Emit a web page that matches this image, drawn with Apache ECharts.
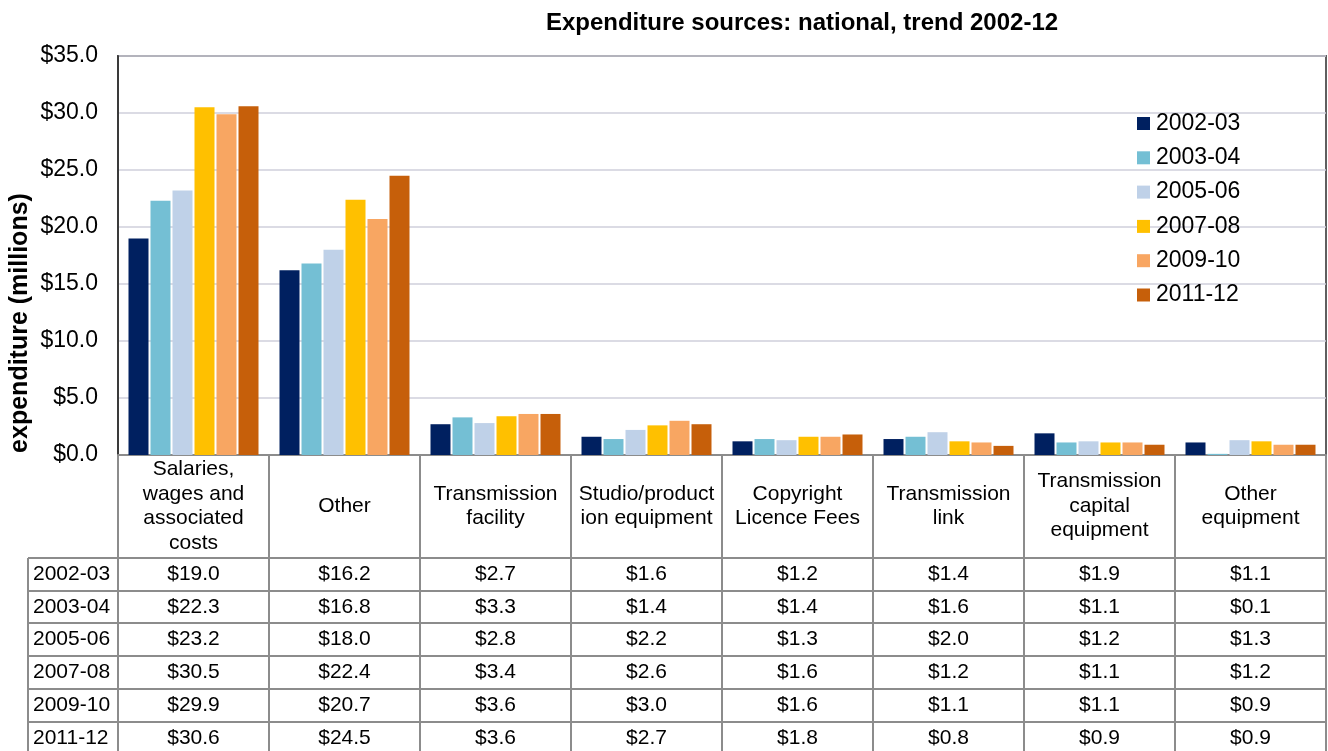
<!DOCTYPE html>
<html>
<head>
<meta charset="utf-8">
<title>Expenditure sources: national, trend 2002-12</title>
<script src="https://cdn.jsdelivr.net/npm/echarts@6/dist/echarts.min.js"></script>
<style>
  html, body { margin: 0; padding: 0; background: #fff; }
  #chart { width: 1328px; height: 751px; }
</style>
</head>
<body>
<div id="chart"></div>
<script>
// Expenditure categories (wrapped the way the header row shows them)
const categories = [
  'Salaries,\nwages and\nassociated\ncosts',
  'Other',
  'Transmission\nfacility',
  'Studio/product\nion equipment',
  'Copyright\nLicence Fees',
  'Transmission\nlink',
  'Transmission\ncapital\nequipment',
  'Other\nequipment'
];

// Financial years shown as series
const years = ['2002-03', '2003-04', '2005-06', '2007-08', '2009-10', '2011-12'];

// Expenditure in $ millions, one array per year, in category order
const exp2002_03 = [19.0, 16.2, 2.7, 1.6, 1.2, 1.4, 1.9, 1.1];
const exp2003_04 = [22.3, 16.8, 3.3, 1.4, 1.4, 1.6, 1.1, 0.1];
const exp2005_06 = [23.2, 18.0, 2.8, 2.2, 1.3, 2.0, 1.2, 1.3];
const exp2007_08 = [30.5, 22.4, 3.4, 2.6, 1.6, 1.2, 1.1, 1.2];
const exp2009_10 = [29.9, 20.7, 3.6, 3.0, 1.6, 1.1, 1.1, 0.9];
const exp2011_12 = [30.6, 24.5, 3.6, 2.7, 1.8, 0.8, 0.9, 0.9];

// Value axis range
const yMin = 0;
const yMax = 35;
const yStep = 5;

const seriesValues = [exp2002_03, exp2003_04, exp2005_06, exp2007_08, exp2009_10, exp2011_12];
const seriesColors = ['#002060', '#74BFD4', '#BFD1E8', '#FFC000', '#F8A662', '#C65F0A'];

const FONT = '"Liberation Sans", Arial, sans-serif';
const GRID_LINE = '#8c8c8c';
const fmt = v => '$' + v.toFixed(1);

const chart = echarts.init(document.getElementById('chart'), null, { renderer: 'canvas' });

chart.setOption({
  animation: false,
  backgroundColor: '#ffffff',
  textStyle: { fontFamily: FONT, color: '#000' },
  grid: {
    left: 118, right: 2, top: 56, bottom: 296,
    show: true, borderColor: '#5f5f5f', borderWidth: 2, backgroundColor: 'transparent'
  },
  legend: {
    orient: 'vertical',
    left: 1132, top: 107,
    icon: 'rect', itemWidth: 13, itemHeight: 13, itemGap: 11.3,
    textStyle: { fontFamily: FONT, fontSize: 23, color: '#000', padding: [0, 0, 0, 1] },
    data: years
  },
  xAxis: {
    type: 'category',
    data: categories,
    axisLine: { lineStyle: { color: GRID_LINE, width: 2 } },
    axisTick: { show: true, length: 300, lineStyle: { color: GRID_LINE, width: 2 } },
    axisLabel: {
      interval: 0, margin: 51, verticalAlign: 'middle',
      fontFamily: FONT, fontSize: 21, lineHeight: 24.5, color: '#000', align: 'center'
    }
  },
  yAxis: {
    type: 'value',
    min: yMin, max: yMax, interval: yStep,
    axisLine: { show: true, lineStyle: { color: '#3a3a3a', width: 2 } },
    axisTick: { show: false },
    splitLine: { lineStyle: { color: '#cfcfdb', width: 1.5 } },
    axisLabel: { formatter: v => fmt(v), margin: 20, fontFamily: FONT, fontSize: 23, color: '#000' }
  },
  series: years.map((y, i) => ({
    name: y,
    type: 'bar',
    data: seriesValues[i],
    barWidth: 20,
    barGap: '10%',
    itemStyle: { color: seriesColors[i] }
  }))
});

// Data table underneath the plot, laid out on the category axis positions
function buildTable() {
  const yBase = chart.convertToPixel({ yAxisIndex: 0 }, 0);
  const x0 = chart.convertToPixel({ xAxisIndex: 0 }, 0);
  const x1 = chart.convertToPixel({ xAxisIndex: 0 }, 1);
  const band = x1 - x0;
  const tableRight = x0 - band / 2 + band * categories.length;
  const labelLeft = 28;
  const headerH = 102.7;
  const rowH = 32.8;
  const firstRow = yBase + headerH;
  const els = [];

  for (let r = 0; r <= years.length; r++) {
    const y = Math.round(firstRow + r * rowH);
    els.push({
      type: 'line', silent: true,
      shape: { x1: labelLeft, y1: y, x2: tableRight, y2: y },
      style: { stroke: GRID_LINE, lineWidth: 2 }
    });
  }
  els.push({
    type: 'line', silent: true,
    shape: { x1: labelLeft, y1: Math.round(firstRow), x2: labelLeft, y2: 760 },
    style: { stroke: GRID_LINE, lineWidth: 2 }
  });

  years.forEach((yr, r) => {
    const cy = firstRow + r * rowH + rowH / 2;
    els.push({
      type: 'text', silent: true, x: labelLeft + 5, y: cy,
      style: { text: yr, fontFamily: FONT, fontSize: 21, fill: '#000', align: 'left', verticalAlign: 'middle' }
    });
    seriesValues[r].forEach((v, c) => {
      const cx = chart.convertToPixel({ xAxisIndex: 0 }, c);
      els.push({
        type: 'text', silent: true, x: cx, y: cy,
        style: { text: fmt(v), fontFamily: FONT, fontSize: 21, fill: '#000', align: 'center', verticalAlign: 'middle' }
      });
    });
  });

  // Chart title
  els.push({
    type: 'text', silent: true, x: 802, y: 23,
    style: { text: 'Expenditure sources: national, trend 2002-12', fontFamily: FONT, fontSize: 24,
             fontWeight: 'bold', fill: '#000', align: 'center', verticalAlign: 'middle' }
  });
  // Value axis title
  els.push({
    type: 'text', silent: true, x: 20, y: 323, rotation: Math.PI / 2,
    style: { text: 'expenditure (millions)', fontFamily: FONT, fontSize: 25,
             fontWeight: 'bold', fill: '#000', align: 'center', verticalAlign: 'middle' }
  });

  chart.setOption({ graphic: { elements: els } });
}

buildTable();
</script>
</body>
</html>
